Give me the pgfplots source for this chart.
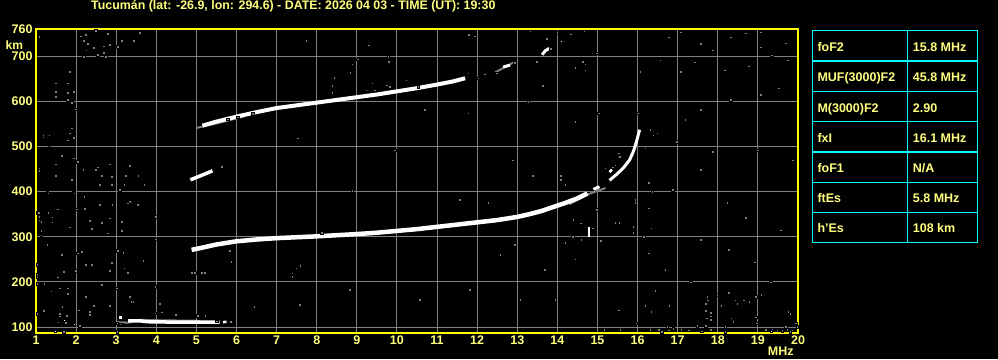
\documentclass[border=0pt]{standalone}
\usepackage{pgfplots}
\pgfplotsset{compat=1.18}
\usepackage{fontspec}
\setmainfont{Liberation Sans}
\definecolor{ylw}{RGB}{255,255,128}
\definecolor{frm}{RGB}{255,255,0}
\definecolor{grd}{RGB}{128,128,128}
\definecolor{cyn}{RGB}{0,255,255}
\pgfdeclarelayer{bg}
\pgfsetlayers{bg,main}
\begin{document}
\begin{tikzpicture}
\begin{axis}[
 name=ax, at={(0,0)}, anchor=south west, scale only axis, width=762pt, height=304pt,
 xmin=1, xmax=20, ymin=87, ymax=760,
 xtick={1,2,...,20}, ytick={100,200,300,400,500,600,700,760},
 grid=major, major grid style={grd, line width=1pt},
 axis line style={frm, line width=1.2pt},
 axis background/.style={fill=black},
 tick style={draw=none},
 ticklabel style={text=ylw, font=\bfseries\fontsize{12.5}{13}\selectfont},
 xticklabel style={yshift=1pt},
 /pgf/number format/assume math mode=true,
 /pgf/number format/1000 sep={},
 clip=true
]
% gray noise
\addplot[only marks, mark=square*, mark size=1.25pt, mark options={draw=none, fill=grd}] coordinates {
(1.085,743) (2.11,744.5) (2.235,747) (2.485,756) (2.785,750) (2.19,734) (2.29,728) (2.435,719) (2.25,713) (2.685,722)
(2.835,725) (3.035,721) (3.135,734) (3.435,734) (3.585,752) (2.535,703) (2.685,707.5) (2.735,699) (2.185,699) (7.735,734)
(9.285,725) (9.785,699) (11.785,747) (11.935,744)
(1.835,665.5) (1.485,640) (1.785,640) (1.485,621) (1.785,619) (1.935,621) (1.485,610) (1.785,603) (1.885,597) (1.985,582)
(1.185,525) (1.185,520) (1.335,525) (1.335,501) (1.885,540) (1.835,529) (1.935,519) (1.785,514) (1.635,479) (1.935,474)
(1.485,461) (1.085,452) (1.085,446) (1.485,435) (1.885,426) (2.035,466) (1.285,398) (1.935,398) (1.535,362) (1.035,353.5)
(1.085,345) (1.285,353.5) (1.385,345)
(2.535,454) (2.49,448) (2.635,435) (2.885,433) (2.835,461) (2.175,448) (3.235,435) (3.34,457.5) (3.55,435) (3.7,415)
(3.085,404) (3.2,415) (2.885,415) (2.59,415) (1.3,396.5) (1.95,396.5) (2.2,389) (2.585,370.6) (2.9,370.6) (3.34,378)
(3.285,374) (3.535,370.6) (1.07,353.5) (1.09,337) (1.3,353.5) (1.4,343) (1.4,332) (1.135,333.6) (1.535,361) (2.01,361)
(2.22,361.7) (2.34,336) (2.635,331.4) (2.84,341) (2.385,317.5) (1.84,321) (2.785,308) (3.135,333.6) (3.135,313.7) (3.985,344.7)
(1.135,313.7) (1.135,304) (1.285,282) (1.635,260) (2.135,267) (2.035,264) (3.035,269.5) (3.175,265) (3.985,294.7) (1.035,238)
(1.035,215.7) (1.035,210) (1.535,210.6) (1.685,223) (1.985,225) (2.235,238) (2.385,238) (2.885,243) (2.84,225) (3.2,230.5)
(3.285,221) (3.675,246.7) (4.885,221) (4.96,221) (5.135,221) (5.21,221) (7.59,235.6) (7.385,219.5) (7.385,212)
(1.035,196) (1.2,196) (1.385,179) (1.59,186) (1.76,175) (1.785,186) (2.635,193.6) (3.01,186) (3.97,190) (2.22,167.7)
(2.425,147.8) (2.84,147.8) (1.675,145.6) (1.59,125.7) (1.55,109) (1.035,129.4) (1.2,136.7) (1.76,125) (2.05,138) (2.34,127)
(3.34,167.7) (3.385,156.6) (4.09,151.5) (4.135,133) (3.97,131) (4.485,127) (5.035,125.7) (5.22,125.7) (5.635,454)
(1.79,173.7) (2.235,167.7) (1.65,145.6) (2.44,147.8) (3.335,167.7) (3.42,156.6) (4.085,151.5) (1.19,136.7) (1.59,129.4) (2.07,138)
(2.335,133.8) (1.55,111) (1.735,110) (2.09,103) (1.69,90) (3.025,90) (3.025,109) (3.1,107) (5.85,112) (5.5,113)
(16.44,181) (17.735,167.7) (17.75,160) (17.985,171.5) (18.275,176.6) (18.94,167.7) (19.085,171.5) (15.535,138) (16.19,147.8) (16.335,133.8)
(16.79,147.8) (17.7,151.5) (17.7,136.7) (17.82,132) (17.82,124) (17.82,116) (17.72,120) (18.09,147) (18.485,151.5) (18.65,160)
(18.785,156.6) (18.335,120) (18.385,112.5) (18.94,122) (18.965,109) (19.75,133.8) (19.8,129.4) (19.94,109) (15.97,109)
(15.17,94) (15.57,94) (16.32,94) (16.525,94) (16.735,101) (16.775,93) (16.885,96) (17.085,94) (17.275,93) (17.485,103)
(17.7,103) (17.82,94) (18.19,101) (18.19,90) (19.19,94) (19.36,94) (19.485,93) (19.69,101) (19.735,94) (19.86,93) (19.985,101)
(19.6,92) (19.8,90) (17.6,91) (16.6,90)
(9.29,724.6) (9.79,687.6) (8.885,682.5) (8.84,663) (9.025,693.6) (8.435,652) (8.385,634.5) (8.385,619) (9.385,640) (9.235,625)
(9.44,625) (9.75,636) (9.82,632) (10.235,647) (10.525,632) (11.775,662) (12.025,651) (12.19,658) (12.485,662) (12.94,685)
(13.275,599) (11.775,573.5) (7.525,518) (5.775,560) (6.025,564.6) (6.4,572) (5.635,455) (8.885,402) (5.835,269.5)
(12.885,470) (13.385,435) (14.085,435) (14.085,426) (14.19,415) (15.19,452) (15.385,454) (16.275,420) (12.275,375.7) (14.385,336)
(14.59,330) (14.985,359.5) (14.885,319) (15.44,331.4) (15.54,331.4) (15.885,322.6) (15.885,309) (15.94,381.6) (15.94,376) (16.15,300)
(14.385,300) (14.59,293) (14.19,287) (12.94,282) (14.44,250) (15.085,291.6) (16.275,263.7)
(14.44,555) (15.025,573.5) (16.0,573.5) (16.385,525) (16.485,529) (16.19,496) (15.525,485) (15.55,477.5) (15.44,459) (16.36,400)
(16.275,363) (14.4,337.4) (14.585,330) (16.335,319)
(12.19,659.7) (13.32,755.5) (13.735,738) (14.0,752) (14.335,749) (13.835,716) (13.485,687.6) (14.635,687.6) (14.69,682) (14.44,674)
(14.69,669) (14.985,706) (13.635,634) (14.67,755.5)
(16.77,742) (17.07,753) (17.57,727) (17.87,713) (18.32,742) (18.69,751) (19.07,753) (19.07,720) (19.69,729) (19.74,691)
(16.07,665) (16.57,691) (17.07,665) (17.42,687) (18.17,669) (18.77,678) (19.34,702) (19.52,629) (19.07,614) (18.32,603)
(17.57,581) (17.19,559) (16.32,537) (16.97,510) (17.87,488) (18.99,492) (19.87,470) (17.57,448) (16.87,404) (18.24,375)
(18.69,342) (19.57,315) (17.57,293) (18.27,271) (18.92,244) (16.69,227) (17.32,200) (19.32,200) (18.44,160)
(7.49,231) (8.12,309) (9.94,492) (10.69,581) (5.87,245) (7.57,150) (6.44,145) (8.82,183) (10.57,161) (11.82,183)
(13.07,161) (13.69,227) (12.57,260) (13.94,161) (11.57,382)
};
% gray fringes of traces
\addplot[grd, line width=2pt] coordinates {(5.0,541) (5.6,553) (6.2,567)};
\addplot[grd, line width=2pt] coordinates {(12.45,664) (12.95,688)};
\addplot[grd, line width=2pt] coordinates {(14.3,372) (14.7,392) (15.2,408)};
\addplot[grd, line width=2pt] coordinates {(3.0,111) (3.3,110) (3.6,116) (4.2,115) (5.1,114)};
% white traces
\addplot[white, line width=3.5pt] coordinates {(3.3,114) (3.6,114) (3.75,112) (4.5,111) (5.3,111) (5.58,111)};
\addplot[white, line width=2.5pt] coordinates {(5.66,111) (5.75,112)};
\addplot[white, line width=4.5pt] coordinates {
(4.88,271) (5.2,277) (5.5,283) (6.0,290) (6.5,294) (7.0,297) (7.5,299) (8.0,301) (8.5,303.5) (9.0,306)
(9.5,309) (10.0,313) (10.5,317) (11.0,322) (11.5,327) (12.0,332) (12.5,337) (13.0,344) (13.3,350) (13.6,357)
(13.9,366) (14.2,375) (14.5,385) (14.75,396)};
\addplot[white, line width=3pt] coordinates {(14.9,405) (15.05,411)};
\addplot[white, line width=3pt] coordinates {(15.3,425) (15.5,440) (15.65,453) (15.8,470) (15.9,490) (15.97,510) (16.03,530) (16.05,537)};
\addplot[white, line width=2.5pt] coordinates {(15.3,443) (15.36,449)};
\addplot[white, line width=2pt] coordinates {(14.8,299) (14.8,322)};
\addplot[white, line width=4pt] coordinates {
(5.15,546) (5.5,555) (6.0,566) (6.5,576) (7.0,585) (7.5,591) (8.0,597) (8.5,603) (9.0,609) (9.5,615)
(10.0,622) (10.5,629) (11.0,637) (11.4,644) (11.7,651)};
\addplot[white, line width=3pt] coordinates {(12.65,676) (12.82,680)};
\addplot[white, line width=3pt] coordinates {(13.62,703) (13.7,712) (13.8,717)};
\addplot[white, line width=3.5pt] coordinates {(4.85,426) (5.1,435) (5.4,446)};
\addplot[only marks, mark=square*, mark size=1pt, mark options={draw=none, fill=white}] coordinates {
(1.7,116) (1.95,107) (1.485,90) (19.33,90) (14.07,732) (14.1,734)};
\addplot[only marks, mark=square*, mark size=2pt, mark options={draw=none, fill=white}] coordinates {(3.1,123)};
\end{axis}
\begin{scope}[x=1pt, y=1pt, shift={(ax.south west)}, shift={(-36pt,-26pt)}]
\begin{pgfonlayer}{bg}
\fill[black] (0,0) rectangle (998,359);
\end{pgfonlayer}
\path[use as bounding box] (0,0) rectangle (998,359);
\node[anchor=base west, text=ylw, font=\bfseries\fontsize{12.4}{13}\selectfont, inner sep=0pt] at (91,349) {Tucumán (lat: -26.9, lon: 294.6) - DATE: 2026 04 03 - TIME (UT): 19:30};
\node[anchor=north west, inner sep=0pt, text=ylw, font=\bfseries\fontsize{12}{13}\selectfont] at (5.5,318.8) {km};
\node[anchor=north west, inner sep=0pt, text=ylw, font=\bfseries\fontsize{12.5}{13}\selectfont] at (767.7,12.5) {MHz};
\draw[cyn, line width=1.3pt] (812.3,116.5) rectangle (977.3,328.7);
\draw[cyn, line width=1.3pt] (907.3,116.5) -- (907.3,328.7);
\foreach \yy in {298,267.5,237.3,207,176.7,146.5} {\draw[cyn, line width=1.3pt] (812.3,\yy) -- (977.3,\yy);}
\tikzset{tl/.style={anchor=base west, inner sep=0pt, text=ylw, font=\bfseries\fontsize{12.5}{13}\selectfont}}
\node[tl] at (817.3,307.5) {foF2};        \node[tl] at (912.7,307.5) {15.8 MHz};
\node[tl] at (817.3,277) {MUF(3000)F2};   \node[tl] at (912.7,277) {45.8 MHz};
\node[tl] at (817.3,246.7) {M(3000)F2};   \node[tl] at (912.7,246.7) {2.90};
\node[tl] at (817.3,216.5) {fxI};         \node[tl] at (912.7,216.5) {16.1 MHz};
\node[tl] at (817.3,186.2) {foF1};        \node[tl] at (912.7,186.2) {N/A};
\node[tl] at (817.3,156) {ftEs};          \node[tl] at (912.7,156) {5.8 MHz};
\node[tl] at (817.3,126) {h'Es};          \node[tl] at (912.7,126) {108 km};
\end{scope}
\end{tikzpicture}
\end{document}
